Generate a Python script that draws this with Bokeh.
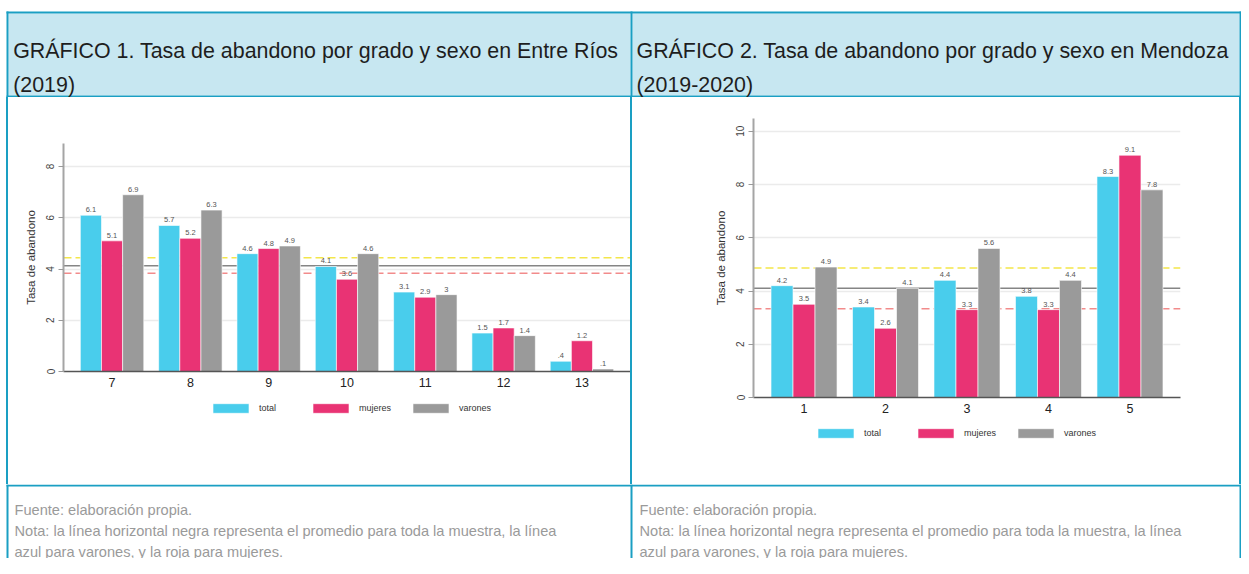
from bokeh.plotting import figure
from bokeh.models import Range1d, Span, Legend, LegendItem, FixedTicker, ColumnDataSource, Spacer
from bokeh.layouts import column, row
from bokeh.transform import dodge
from bokeh.core.properties import value
from bokeh.embed import file_html
from bokeh.resources import INLINE

FONT = "Liberation Sans"
TEAL = "#1A9FC3"
HEADER_BG = "#C7E7F1"
C_TOTAL = "#49CDEC"
C_MUJ = "#E93374"
C_VAR = "#9A9A9A"
SERIES_COLORS = [C_TOTAL, C_MUJ, C_VAR]

# ---------------- data ----------------
titles_l1 = ["GRÁFICO 1. Tasa de abandono por grado y sexo en Entre Ríos",
             "GRÁFICO 2. Tasa de abandono por grado y sexo en Mendoza"]
titles_l2 = ["(2019)", "(2019-2020)"]
footer_lines = ["Fuente: elaboración propia.",
                "Nota: la línea horizontal negra representa el promedio para toda la muestra, la línea",
                "azul para varones, y la roja para mujeres."]
series_names = ["total", "mujeres", "varones"]
y_label = "Tasa de abandono"

grados_er = [7, 8, 9, 10, 11, 12, 13]
total_er = [6.1, 5.7, 4.6, 4.1, 3.1, 1.5, 0.4]
mujeres_er = [5.1, 5.2, 4.8, 3.6, 2.9, 1.7, 1.2]
varones_er = [6.9, 6.3, 4.9, 4.6, 3.0, 1.4, 0.1]
prom_total_er, prom_varones_er, prom_mujeres_er = 4.13, 4.44, 3.84
yticks_er = [0, 2, 4, 6, 8]

grados_mz = [1, 2, 3, 4, 5]
total_mz = [4.2, 3.4, 4.4, 3.8, 8.3]
mujeres_mz = [3.5, 2.6, 3.3, 3.3, 9.1]
varones_mz = [4.9, 4.1, 5.6, 4.4, 7.8]
prom_total_mz, prom_varones_mz, prom_mujeres_mz = 4.10, 4.86, 3.33
yticks_mz = [0, 2, 4, 6, 8, 10]

W_TOTAL = 1241
H_HDR, H_MID, H_FTR = 97, 387, 74
Y_FTR = H_HDR + H_MID


def fmt(v):
    s = f"{v:g}"
    if s.startswith("0."):
        s = s[1:]
    return s


def make_chart(grados, tot, muj, var, means, yticks, ymax, width, height,
               mbl, mbr, mbt, mbb):
    p = figure(width=width, height=height, output_backend="svg", toolbar_location=None,
               x_range=Range1d(grados[0] - 0.62, grados[-1] + 0.62),
               y_range=Range1d(0, ymax),
               min_border_left=mbl, min_border_right=mbr,
               min_border_top=mbt, min_border_bottom=mbb)
    p.outline_line_color = None
    p.xgrid.visible = False
    p.ygrid.grid_line_color = "#EBEBEB"
    p.ygrid.grid_line_width = 1.5
    p.ygrid.ticker = FixedTicker(ticks=yticks)

    p.yaxis.ticker = FixedTicker(ticks=yticks)
    p.yaxis.minor_tick_line_color = None
    p.yaxis.major_tick_out = 5
    p.yaxis.major_tick_in = 0
    p.yaxis.major_tick_line_color = "#9A9A9A"
    p.yaxis.axis_line_color = "#A5A5A5"
    p.yaxis.axis_line_width = 2
    p.yaxis.major_label_orientation = "vertical"
    p.yaxis.major_label_text_font = FONT
    p.yaxis.major_label_text_font_size = "10px"
    p.yaxis.major_label_text_color = "#444444"
    p.yaxis.major_label_standoff = 4
    p.yaxis.axis_label = y_label
    p.yaxis.axis_label_text_font = FONT
    p.yaxis.axis_label_text_font_style = "normal"
    p.yaxis.axis_label_text_font_size = "11.5px"
    p.yaxis.axis_label_text_color = "#333333"
    p.yaxis.axis_label_standoff = 7

    p.xaxis.ticker = FixedTicker(ticks=grados)
    p.xaxis.minor_tick_line_color = None
    p.xaxis.major_tick_out = 0
    p.xaxis.major_tick_in = 0
    p.xaxis.axis_line_color = "#555555"
    p.xaxis.axis_line_width = 1.5
    p.xaxis.major_label_text_font = FONT
    p.xaxis.major_label_text_font_size = "12.5px"
    p.xaxis.major_label_text_color = "#222222"
    p.xaxis.major_label_standoff = 6

    m_tot, m_var, m_muj = means
    p.add_layout(Span(location=m_var, dimension="width", line_color="#F3E64A",
                      line_dash="8 4", line_width=1.5, level="underlay"))
    p.add_layout(Span(location=m_muj, dimension="width", line_color="#F28B8B",
                      line_dash="8 4", line_width=1.5, level="underlay"))
    p.add_layout(Span(location=m_tot, dimension="width", line_color="#858585",
                      line_width=1.5, level="underlay"))

    src = ColumnDataSource(dict(
        g=grados, v_tot=tot, v_muj=muj, v_var=var,
        lt=[fmt(v) for v in tot], lm=[fmt(v) for v in muj], lv=[fmt(v) for v in var]))

    for off, col, colr, lab in [(-0.27, "v_tot", C_TOTAL, "lt"),
                                (0.0, "v_muj", C_MUJ, "lm"),
                                (0.27, "v_var", C_VAR, "lv")]:
        p.vbar(x=dodge("g", off), top=col, width=0.27, source=src,
               fill_color=colr, line_color="white", line_alpha=0.6, line_width=1)
        p.text(x=dodge("g", off), y=col, text=lab, source=src, text_align="center",
               text_baseline="bottom", y_offset=-3, text_font=value(FONT),
               text_font_size="7.5px", text_color="#555555")
    return p


def make_legend(width, height, vx, vy):
    # legend-only strip; its frame is aligned with the chart frame above it
    lf = figure(width=width, height=height, output_backend="svg", toolbar_location=None,
                x_axis_type=None, y_axis_type=None, min_border=0,
                x_range=Range1d(0, 1), y_range=Range1d(0, 1))
    lf.outline_line_color = None
    lf.grid.visible = False
    items = []
    for name, colr in zip(series_names, SERIES_COLORS):
        # swatch renderer kept outside the visible range (only its legend glyph shows)
        r = lf.vbar(x=[-5], top=[-5], width=0.27, fill_color=colr,
                    line_color="white", line_alpha=0.6, line_width=1)
        items.append(LegendItem(label=value(name), renderers=[r]))
    legend = Legend(items=items, orientation="horizontal", location=(vx, vy),
                    glyph_width=45, glyph_height=12, label_standoff=6, label_width=38,
                    label_height=12, spacing=11, padding=0, margin=0,
                    border_line_color=None, background_fill_alpha=0,
                    label_text_font=FONT, label_text_font_size="9px",
                    label_text_color="#333333")
    lf.add_layout(legend)
    return lf


# left cell: x 8..630 ; right cell: x 632..1239 ; y 97..484
left = make_chart(grados_er, total_er, mujeres_er, varones_er,
                  (prom_total_er, prom_varones_er, prom_mujeres_er), yticks_er, 8.9,
                  622, 301, 55, 0, 46, 27)
left_leg = make_legend(622, H_MID - 301, 145, 70)
right = make_chart(grados_mz, total_mz, mujeres_mz, varones_mz,
                   (prom_total_mz, prom_varones_mz, prom_mujeres_mz), yticks_mz, 10.48,
                   607, 327, 121, 59, 21, 27)
right_leg = make_legend(607, H_MID - 327, 60, 45)


def blank(width, height, y0, y1):
    f = figure(width=width, height=height, output_backend="svg", toolbar_location=None,
               x_range=Range1d(0, width), y_range=Range1d(y1, y0), min_border=0)
    f.axis.visible = False
    f.grid.visible = False
    f.outline_line_color = None
    return f


hdr = blank(W_TOTAL, H_HDR, 0, H_HDR)
hdr.quad(left=[8, 632], right=[630, 1239], top=[13, 13], bottom=[95, 95],
         fill_color=HEADER_BG, line_color=None)
hdr.quad(left=[6, 6, 6, 630, 1239], right=[1241, 1241, 8, 632, 1241],
         top=[11, 95, 11, 11, 11], bottom=[13, 97, 97, 97, 97],
         fill_color=TEAL, line_color=None)
hdr.text(x=[12.7, 12.7, 636, 636], y=[50, 84, 50, 84],
         text=[titles_l1[0], titles_l2[0], titles_l1[1], titles_l2[1]],
         text_baseline="alphabetic", text_align="left", text_font=value(FONT),
         text_font_size="21.4px", text_color="#1E1E1E")

Y_END = Y_FTR + H_FTR
ftr = blank(W_TOTAL, H_FTR, Y_FTR, Y_END)
ftr.quad(left=[6, 6, 630, 1239], right=[1241, 8, 632, 1241],
         top=[Y_FTR] * 4, bottom=[Y_FTR + 2, Y_END, Y_END, Y_END],
         fill_color=TEAL, line_color=None)
fy = [Y_FTR + 25, Y_FTR + 46, Y_FTR + 67]
ftr.text(x=[14, 14, 14, 639, 639, 639], y=fy + fy,
         text=footer_lines + footer_lines,
         text_baseline="alphabetic", text_align="left", text_font=value(FONT),
         text_font_size="14.6px", text_color="#9A9A9A")


def vborder():
    return Spacer(width=2, height=H_MID, styles={"background-color": TEAL})


middle = row(Spacer(width=6, height=H_MID, styles={"background-color": "#FFFFFF"}),
             vborder(), column(left, left_leg, spacing=0), vborder(),
             column(right, right_leg, spacing=0), vborder(), spacing=0)
page = column(hdr, middle, ftr, spacing=0)

open("out.html", "w").write(file_html(page, INLINE))
